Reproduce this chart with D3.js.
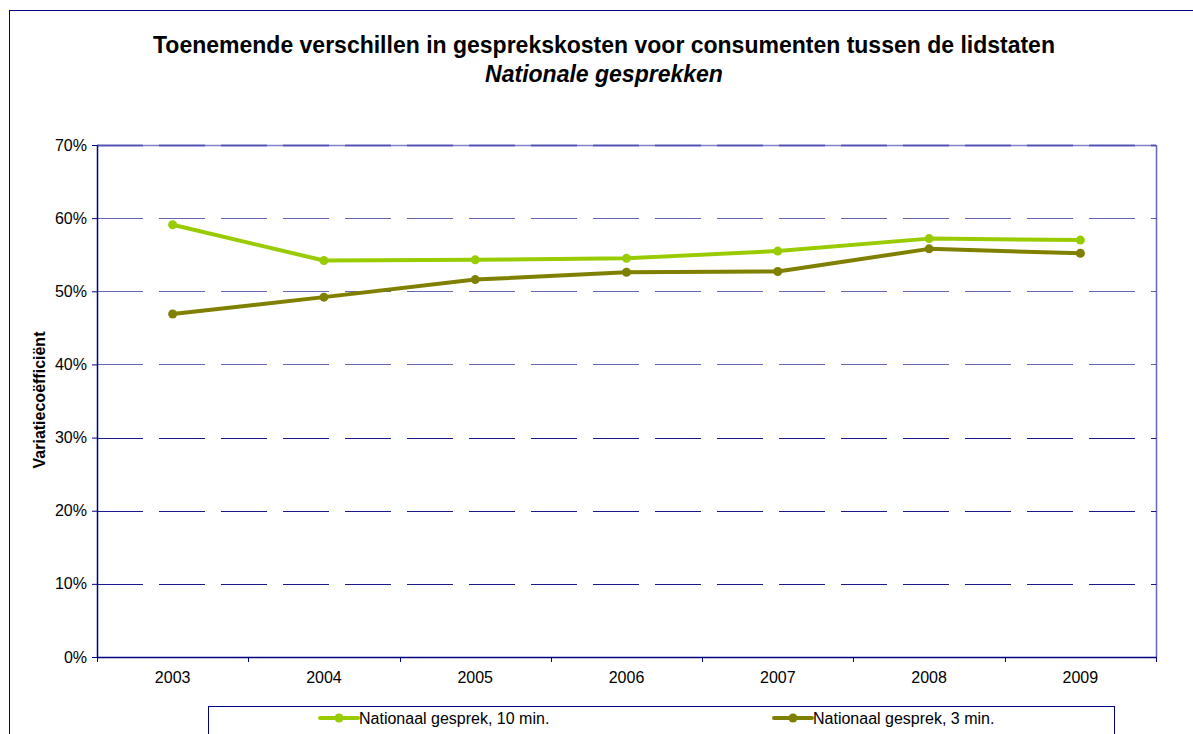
<!DOCTYPE html>
<html>
<head>
<meta charset="utf-8">
<script src="https://cdn.jsdelivr.net/npm/d3@7"></script>
<style>
  body { margin: 0; background: #fff; }
  svg text { font-family: "Liberation Sans", Arial, sans-serif; }
</style>
</head>
<body>
<div class="chart"></div>
<script>
var years = ["2003", "2004", "2005", "2006", "2007", "2008", "2009"];
var tenMin = [59.1, 54.2, 54.3, 54.5, 55.5, 57.2, 57.0];
var threeMin = [46.9, 49.2, 51.6, 52.6, 52.7, 55.8, 55.2];
var yTicks = [0, 10, 20, 30, 40, 50, 60, 70];
var seriesNames = ["Nationaal gesprek, 10 min.", "Nationaal gesprek, 3 min."];
var seriesColors = ["#99cc00", "#808000"];

var svgWidth = 1193;
var svgHeight = 734;
var margin = { top: 145, right: 37, bottom: 77, left: 97 };
var width = svgWidth - margin.left - margin.right;
var height = svgHeight - margin.top - margin.bottom;

var svg = d3.select(".chart")
  .append("svg")
  .attr("width", svgWidth)
  .attr("height", svgHeight);

// outer chart border
svg.append("rect")
  .attr("x", 9.5).attr("y", 10.5)
  .attr("width", 1200).attr("height", 800)
  .attr("fill", "none")
  .attr("stroke", "#000080")
  .attr("stroke-width", 1);

// titles
svg.append("text")
  .attr("x", 604).attr("y", 53)
  .attr("text-anchor", "middle")
  .attr("font-size", "23px").attr("font-weight", "bold")
  .text("Toenemende verschillen in gesprekskosten voor consumenten tussen de lidstaten");
svg.append("text")
  .attr("x", 604).attr("y", 82)
  .attr("text-anchor", "middle")
  .attr("font-size", "23px").attr("font-weight", "bold").attr("font-style", "italic")
  .text("Nationale gesprekken");

var chartGroup = svg.append("g")
  .attr("transform", `translate(${margin.left}, ${margin.top})`);

var xScale = d3.scaleBand().domain(years).range([0, width]);
var yScale = d3.scaleLinear().domain([0, 70]).range([height, 0]);

// plot area border (right side light)
chartGroup.append("line")
  .attr("x1", width + 0.5).attr("x2", width + 0.5)
  .attr("y1", 0).attr("y2", height)
  .attr("stroke", "#6666bb").attr("stroke-width", 1.5);
chartGroup.append("line")
  .attr("x1", 0).attr("x2", width)
  .attr("y1", 0.5).attr("y2", 0.5)
  .attr("stroke", "#8080c8").attr("stroke-width", 1.5);

// gridlines
chartGroup.selectAll(".grid")
  .data(yTicks.filter(d => d > 0))
  .enter()
  .append("line")
  .attr("class", "grid")
  .attr("x1", 0).attr("x2", width)
  .attr("y1", d => Math.round(yScale(d)) + 0.5)
  .attr("y2", d => Math.round(yScale(d)) + 0.5)
  .attr("stroke", d => d === 70 ? "#3333a0" : "#000080")
  .attr("stroke-width", d => d === 70 ? 2 : 1)
  .attr("stroke-opacity", d => d >= 40 ? 0.6 : 0.9)
  .attr("stroke-dasharray", "46,16");

// axes
var leftAxis = d3.axisLeft(yScale).tickValues(yTicks).tickFormat(d => d + "%").tickSize(5).tickSizeOuter(0);
var bottomAxis = d3.axisBottom(xScale).tickSize(0);

var yAxisG = chartGroup.append("g").call(leftAxis);
yAxisG.select(".domain").attr("stroke", "#000080").attr("stroke-width", 1.5);
yAxisG.selectAll(".tick line").attr("stroke", "#000080");
yAxisG.selectAll("text").attr("font-size", "16px").attr("fill", "#000").attr("dx", "-2px");

var xAxisG = chartGroup.append("g")
  .attr("transform", `translate(0, ${height})`)
  .call(bottomAxis);
xAxisG.select(".domain").attr("stroke", "#000080").attr("stroke-width", 1.5);
xAxisG.selectAll("text").attr("font-size", "16px").attr("fill", "#000").attr("dy", "1.45em");

// category boundary ticks
chartGroup.selectAll(".xtick")
  .data(years.concat(["end"]))
  .enter()
  .append("line")
  .attr("x1", (d, i) => Math.round(i * xScale.step()) + 0.5)
  .attr("x2", (d, i) => Math.round(i * xScale.step()) + 0.5)
  .attr("y1", height).attr("y2", height + 5)
  .attr("stroke", "#000080");

// y axis label
svg.append("text")
  .attr("transform", "rotate(-90)")
  .attr("x", -400).attr("y", 45)
  .attr("text-anchor", "middle")
  .attr("font-size", "16px").attr("font-weight", "bold")
  .text("Variatiecoëfficiënt");

// series
var allSeries = [tenMin, threeMin];
var line = d3.line()
  .x((d, i) => xScale(years[i]) + xScale.bandwidth() / 2)
  .y(d => yScale(d));

allSeries.forEach(function(values, s) {
  chartGroup.append("path")
    .datum(values)
    .attr("d", line)
    .attr("fill", "none")
    .attr("stroke", seriesColors[s])
    .attr("stroke-width", 4)
    .attr("stroke-linejoin", "round");
  chartGroup.selectAll(".pt" + s)
    .data(values)
    .enter()
    .append("circle")
    .attr("cx", (d, i) => xScale(years[i]) + xScale.bandwidth() / 2)
    .attr("cy", d => yScale(d))
    .attr("r", 4.5)
    .attr("fill", seriesColors[s]);
});

// legend
var legend = svg.append("g");
legend.append("rect")
  .attr("x", 208.5).attr("y", 706.5)
  .attr("width", 906).attr("height", 60)
  .attr("fill", "#fff")
  .attr("stroke", "#000080");

var legendX = [320, 774];
seriesNames.forEach(function(name, s) {
  var g = legend.append("g").attr("transform", `translate(${legendX[s]}, 718)`);
  g.append("line")
    .attr("x1", 0).attr("x2", 38)
    .attr("stroke", seriesColors[s]).attr("stroke-width", 4)
    .attr("stroke-linecap", "round");
  g.append("circle").attr("cx", 19).attr("r", 4.5).attr("fill", seriesColors[s]);
  g.append("text")
    .attr("x", 39).attr("y", 6)
    .attr("font-size", "16px")
    .text(name);
});
</script>
</body>
</html>
